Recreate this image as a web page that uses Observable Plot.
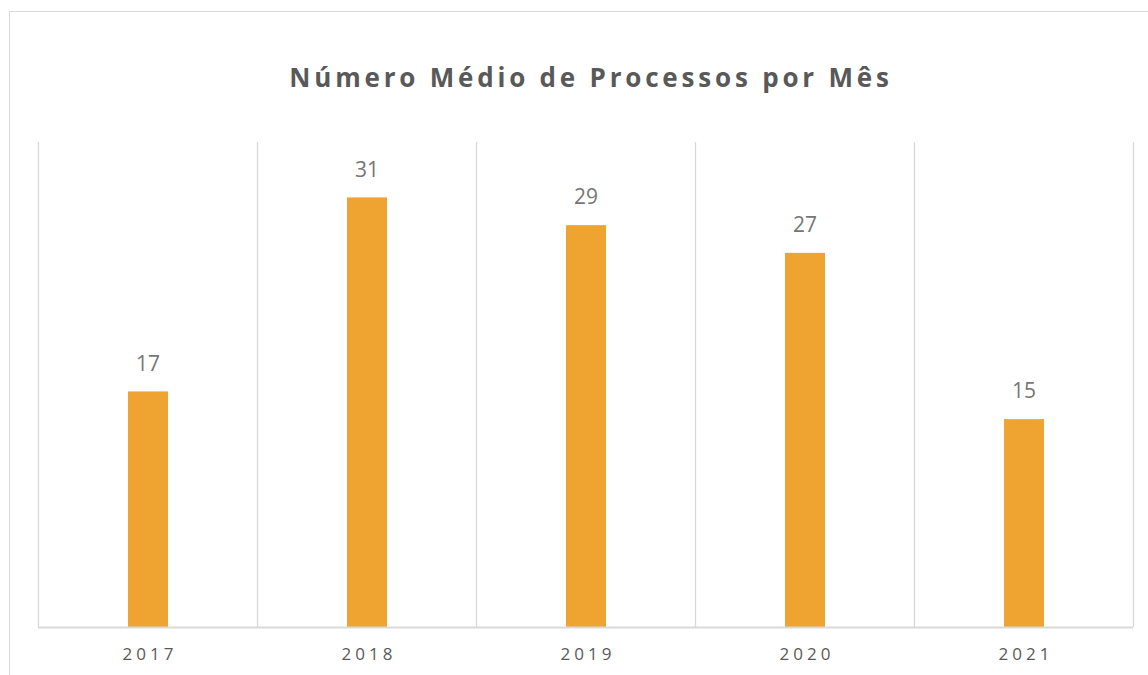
<!DOCTYPE html>
<html>
<head>
<meta charset="utf-8">
<script src="https://cdn.jsdelivr.net/npm/d3@7"></script>
<script src="https://cdn.jsdelivr.net/npm/@observablehq/plot@0.6"></script>
<style>
  body { margin: 0; overflow: hidden; background: #fff; font-family: "Open Sans", sans-serif; }
  #wrap { position: relative; width: 1148px; height: 675px; overflow: hidden; }
  #frame { position: absolute; left: 9px; top: 11px; width: 1300px; height: 800px; border: 1.5px solid #d9d9d9; box-sizing: border-box; }
  #title { position: absolute; left: 0; top: 58px; width: 1182px; text-align: center; font-size: 26px; font-weight: 700; color: #595959; letter-spacing: 3.8px; line-height: 38px; }
  #chart { position: absolute; left: 0; top: 0; }
  #chart g[aria-label="x-axis tick label"] text { letter-spacing: 4px; }
</style>
</head>
<body>
<div id="wrap">
  <div id="frame"></div>
  <div id="chart"></div>
  <div id="title">Número Médio de Processos por Mês</div>
</div>
<script>
const years = [2017, 2018, 2019, 2020, 2021];
const values = [17, 31, 29, 27, 15];
const yMax = 35;

const data = years.map((year, i) => ({year, value: values[i]}));
const boundaries = [years[0] - 0.5, ...years.map(y => y + 0.5)];

const chart = Plot.plot({
  width: 1148,
  height: 675,
  marginLeft: 38,
  marginRight: 15,
  marginTop: 142,
  marginBottom: 48,
  style: {fontFamily: "'Open Sans', sans-serif", background: "transparent"},
  x: {domain: [years[0] - 0.5, years[years.length - 1] + 0.5], label: null},
  y: {domain: [0, yMax], axis: null},
  marks: [
    Plot.ruleX(boundaries, {stroke: "#d9d9d9", strokeWidth: 1.3, y1: 0, y2: yMax}),
    Plot.rectY(data, {
      x1: d => d.year - 0.5,
      x2: d => d.year + 0.5,
      y: "value",
      fill: "#EFA431",
      insetLeft: 90,
      insetRight: 89
    }),
    Plot.ruleY([0], {stroke: "#d9d9d9", strokeWidth: 2}),
    Plot.text(data, {
      x: "year",
      y: "value",
      text: d => String(d.value),
      dy: -28,
      fill: "#767676",
      fontSize: 21
    }),
    Plot.axisX({
      ticks: years,
      tickFormat: d => String(d),
      tickSize: 0,
      tickPadding: 20,
      fontSize: 17,
      fill: "#595959",
      dx: 2,
      label: null
    })
  ]
});
document.getElementById("chart").appendChild(chart);
</script>
</body>
</html>
